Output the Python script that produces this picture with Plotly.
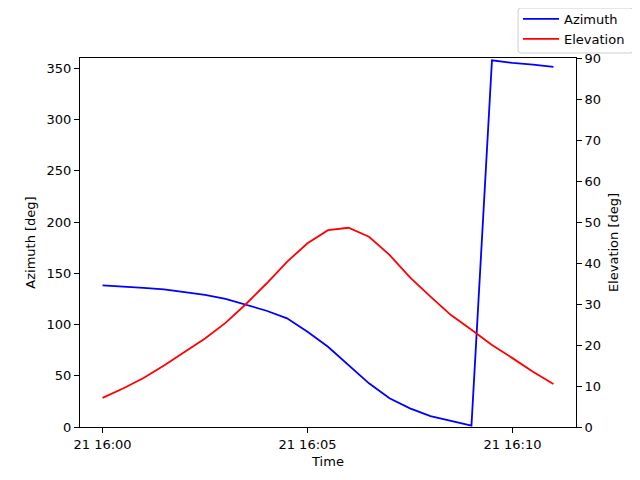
import plotly.graph_objects as go
import pandas as pd

minutes = [i * 0.5 for i in range(23)]
azimuth = [138.1, 137.2, 135.8, 134.2, 131.9, 129.0, 125.1, 119.6, 113.4, 106.0,
           92.9, 78.3, 60.4, 42.6, 28.0, 18.2, 10.7, 5.8, 1.3, 357.8, 355.2, 353.6, 351.3]
elevation = [7.1, 9.4, 11.95, 15.0, 18.3, 21.6, 25.4, 30.0, 35.0, 40.3,
             44.8, 48.0, 48.6, 46.4, 42.0, 36.5, 31.8, 27.3, 23.7, 20.0, 16.8, 13.5, 10.5]

start = pd.Timestamp("2024-01-21 16:00:00")
times = [start + pd.Timedelta(minutes=m) for m in minutes]
x_lo = start + pd.Timedelta(minutes=-0.55)
x_hi = start + pd.Timedelta(minutes=11.55)

font = dict(family="DejaVu Sans", size=13, color="black")

W, H = 632, 472
L, R, T, B = 72, 64, 50, 53
PW, PH = W - L - R, H - T - B


def px(fx):
    return (fx - L) / PW


def py(fy):
    return (H - B - fy) / PH


# legend frame (rounded rectangle) in figure pixels
bx0, by0, bx1, by1, rr = 510, 0, 625, 45, 3
frame = (f"M {px(bx0 + rr)},{py(by0)} L {px(bx1 - rr)},{py(by0)} "
         f"Q {px(bx1)},{py(by0)} {px(bx1)},{py(by0 + rr)} "
         f"L {px(bx1)},{py(by1 - rr)} Q {px(bx1)},{py(by1)} {px(bx1 - rr)},{py(by1)} "
         f"L {px(bx0 + rr)},{py(by1)} Q {px(bx0)},{py(by1)} {px(bx0)},{py(by1 - rr)} "
         f"L {px(bx0)},{py(by0 + rr)} Q {px(bx0)},{py(by0)} {px(bx0 + rr)},{py(by0)} Z")

fig = go.Figure()
fig.add_trace(go.Scatter(x=times, y=azimuth, mode="lines", name="Azimuth",
                         line=dict(color="blue", width=1.8), yaxis="y"))
fig.add_trace(go.Scatter(x=times, y=elevation, mode="lines", name="Elevation",
                         line=dict(color="red", width=1.8), yaxis="y2"))

fig.add_shape(type="path", path=frame, xref="paper", yref="paper",
              line=dict(color="#d0d0d0", width=1), fillcolor="white", layer="above")

fig.update_layout(
    width=W, height=H,
    margin=dict(l=L, r=R, t=T, b=B, autoexpand=False),
    paper_bgcolor="white", plot_bgcolor="white",
    font=font,
    showlegend=True,
    legend=dict(xref="paper", yref="paper", x=px(510), y=py(-4),
                xanchor="left", yanchor="top", bgcolor="rgba(0,0,0,0)",
                borderwidth=0, font=font, tracegroupgap=0, itemwidth=36),
    xaxis=dict(type="date", range=[x_lo, x_hi], tickformat="%d %H:%M",
               tick0=start, dtick=300000, showgrid=False, zeroline=False,
               showline=True, linecolor="black", linewidth=1, mirror=True,
               ticks="outside", ticklen=5, tickcolor="black", automargin=False,
               title=dict(text="Time", font=font, standoff=6)),
    yaxis=dict(range=[0, 360], tickvals=list(range(0, 351, 50)), showgrid=False,
               zeroline=False, showline=True, linecolor="black", linewidth=1,
               ticks="outside", ticklen=5, tickcolor="black", automargin=False,
               title=dict(text="Azimuth [deg]", font=font, standoff=8)),
    yaxis2=dict(range=[0, 90], tickvals=list(range(0, 91, 10)), overlaying="y",
                side="right", showgrid=False, zeroline=False, showline=True,
                linecolor="black", linewidth=1, ticks="outside", ticklen=5,
                tickcolor="black", automargin=False,
                title=dict(text="Elevation [deg]", font=font, standoff=8)),
)

fig.write_html("out.html")
